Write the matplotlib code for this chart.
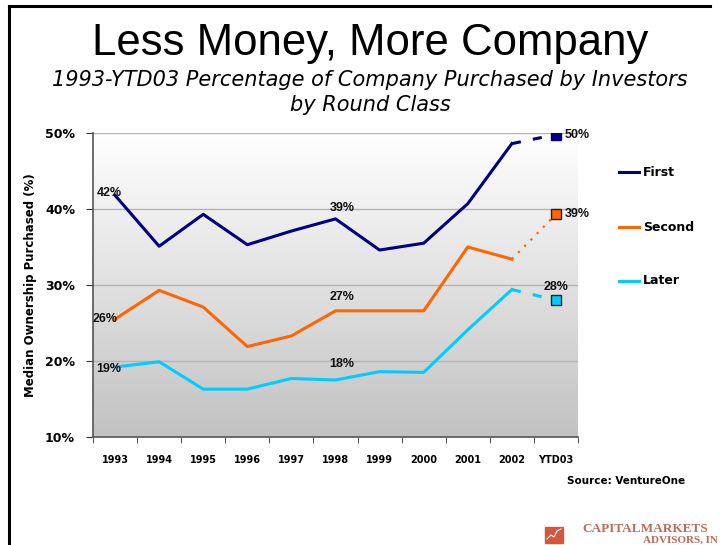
import numpy as np
import matplotlib.pyplot as plt
from matplotlib.lines import Line2D
from matplotlib.colors import LinearSegmentedColormap

years = ["1993", "1994", "1995", "1996", "1997", "1998", "1999", "2000", "2001", "2002", "YTD03"]
first = [41.8, 35.1, 39.3, 35.3, 37.1, 38.7, 34.6, 35.5, 40.7, 48.6, 49.8]
second = [25.5, 29.3, 27.1, 21.9, 23.3, 26.6, 26.6, 26.6, 35.0, 33.4, 39.3]
later = [19.2, 19.9, 16.3, 16.3, 17.7, 17.5, 18.6, 18.5, 24.1, 29.4, 28.0]
series_names = ["First", "Second", "Later"]
colors = ["#000080", "#ff6600", "#00ccff"]

fig = plt.figure(figsize=(7.2, 5.45), dpi=100)
ax = fig.add_axes([93 / 720, 108 / 545, 485 / 720, 304 / 545])

x = np.arange(len(years))
ax.set_xlim(-0.5, len(years) - 0.5)
ax.set_ylim(10, 50)

# gradient background, white at top
grad = np.linspace(0, 1, 256).reshape(-1, 1)
ax.imshow(grad, cmap=LinearSegmentedColormap.from_list("g", ["#ffffff", "#c2c2c2"]),
          extent=[-0.5, len(years) - 0.5, 10, 50], aspect="auto", zorder=0, origin="upper")

for yv in [20, 30, 40, 50]:
    ax.axhline(yv, color="#b4b4b4", lw=1, zorder=1)

styles = [(0, (3, 4)), (0, (1, 3)), (0, (3, 4))]
for vals, c, ls in zip([first, second, later], colors, styles):
    ax.plot(x[:-1], vals[:-1], color=c, lw=2.2, zorder=3)
    ax.plot(x[-2:], vals[-2:], color=c, lw=2.2 if ls != (0, (1, 3)) else 1.6, ls=ls, zorder=3)
    ax.plot(x[-1], vals[-1], marker="s", ms=7, color=c, mec="#000080" if c == "#000080" else "#222222",
            mew=1, zorder=4)

lab = dict(fontsize=9, fontweight="bold", family="Liberation Sans", color="#111111", zorder=5,
           textcoords="offset pixels")
ax.annotate(f"{first[0]:.0f}%", (x[0], first[0]), xytext=(-6, 2), ha="center", va="center", **lab)
ax.annotate(f"{first[5]:.0f}%", (x[5], first[5]), xytext=(7, 11), ha="center", va="center", **lab)
ax.annotate(f"{second[0]:.0f}%", (x[0], second[0]), xytext=(-10, 0), ha="center", va="center", **lab)
ax.annotate(f"{second[5]:.0f}%", (x[5], second[5]), xytext=(7, 14), ha="center", va="center", **lab)
ax.annotate(f"{later[0]:.0f}%", (x[0], later[0]), xytext=(-6, -2), ha="center", va="center", **lab)
ax.annotate(f"{later[5]:.0f}%", (x[5], later[5]), xytext=(6, 16), ha="center", va="center", **lab)
ax.annotate(f"{first[-1]:.0f}%", (x[-1], first[-1]), xytext=(9, 0), ha="left", va="center", **lab)
ax.annotate(f"{second[-1]:.0f}%", (x[-1], second[-1]), xytext=(9, 0), ha="left", va="center", **lab)
ax.annotate(f"{later[-1]:.0f}%", (x[-1], later[-1]), xytext=(0, 13), ha="center", va="center", **lab)

ax.set_xticks(x)
ax.set_xticklabels(years, fontsize=7, fontweight="bold", family="DejaVu Sans")
ax.tick_params(axis="x", length=0, pad=13)
ax.set_xticks(np.arange(-0.5, len(years)), minor=True)
ax.tick_params(axis="x", which="minor", length=4, direction="out", color="#333333")
ax.set_yticks([10, 20, 30, 40, 50])
ax.set_yticklabels(["10%", "20%", "30%", "40%", "50%"], fontsize=9, fontweight="bold")
ax.tick_params(axis="y", length=5, direction="out", color="#333333", pad=8)
ax.set_ylabel("Median Ownership Purchased (%)", fontsize=8.5, fontweight="bold")
ax.yaxis.set_label_coords(-0.115, 0.5)
for s in ["top", "right"]:
    ax.spines[s].set_visible(False)
for s in ["left", "bottom"]:
    ax.spines[s].set_color("#555555")
    ax.spines[s].set_linewidth(1.2)

# legend
for i, (name, c) in enumerate(zip(series_names, colors)):
    yy = 1 - [172, 227, 281][i] / 545
    fig.add_artist(Line2D([619 / 720, 639 / 720], [yy, yy], color=c, lw=2.2))
    fig.text(643 / 720, yy, name, fontsize=9, fontweight="bold", va="center", ha="left")

fig.text(370 / 720, 1 - 55 / 545, "Less Money, More Company", fontsize=31.5,
         family="Liberation Sans", ha="center", va="baseline")
fig.text(370 / 720, 1 - 86 / 545, "1993-YTD03 Percentage of Company Purchased by Investors",
         fontsize=15, family="DejaVu Sans", style="italic", ha="center", va="baseline")
fig.text(370 / 720, 1 - 111 / 545, "by Round Class",
         fontsize=15, family="DejaVu Sans", style="italic", ha="center", va="baseline")
fig.text(626 / 720, 1 - 481 / 545, "Source: VentureOne", fontsize=7.5, fontweight="bold",
         ha="center", va="center")

# logo
fig.add_artist(plt.Rectangle((545 / 720, 1 - 543 / 545), 18 / 720, 16 / 545, color="#d0583c"))
fig.add_artist(Line2D(np.array([547, 551, 554, 557, 561]) / 720, 1 - np.array([539, 535, 537, 531, 529]) / 545,
                      color="white", lw=0.8))
fig.text(582 / 720, 1 - 532 / 545, "CAPITALMARKETS", fontsize=9.5, family="Liberation Serif",
         fontweight="bold", color="#c06a55", ha="left", va="baseline")
fig.text(643 / 720, 1 - 543 / 545, "ADVISORS, IN", fontsize=8, family="Liberation Serif",
         fontweight="bold", color="#c06a55", ha="left", va="baseline")

# frame
fig.add_artist(Line2D([9 / 720, 9 / 720], [0, 1 - 6 / 545], color="black", lw=2.2))
fig.add_artist(Line2D([9 / 720, 710 / 720], [1 - 6 / 545, 1 - 6 / 545], color="black", lw=2.2))

fig.savefig("out.png", dpi=100)
